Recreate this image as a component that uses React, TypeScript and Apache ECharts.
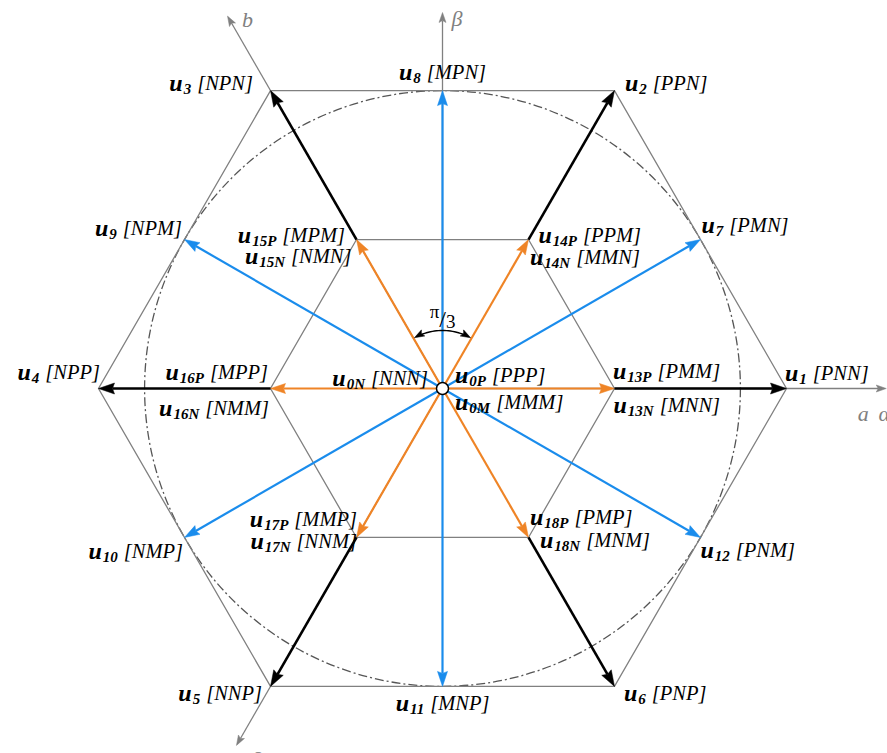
import React, { useEffect, useRef } from 'react';
import * as echarts from 'echarts';

const W = 887;
const H = 753;

// Space vectors of a three-level inverter, in units of the large-vector length
const largeNames = ['1', '2', '3', '4', '5', '6'];
const largeStates = ['PNN', 'PPN', 'NPN', 'NPP', 'NNP', 'PNP'];
const largeX = [1, 0.5, -0.5, -1, -0.5, 0.5];
const largeY = [0, 0.866, 0.866, 0, -0.866, -0.866];

const mediumNames = ['7', '8', '9', '10', '11', '12'];
const mediumStates = ['PMN', 'MPN', 'NPM', 'NMP', 'MNP', 'PNM'];
const mediumX = [0.75, 0, -0.75, -0.75, 0, 0.75];
const mediumY = [0.433, 0.866, 0.433, -0.433, -0.866, -0.433];

const smallNames = ['13', '14', '15', '16', '17', '18'];
const smallStatesP = ['PMM', 'PPM', 'MPM', 'MPP', 'MMP', 'PMP'];
const smallStatesN = ['MNN', 'MMN', 'NMN', 'NMM', 'NNM', 'MNM'];
const smallX = [0.5, 0.25, -0.25, -0.5, -0.25, 0.25];
const smallY = [0, 0.433, 0.433, 0, -0.433, -0.433];

const zeroNames = ['0N', '0P', '0M'];
const zeroStates = ['NNN', 'PPP', 'MMM'];

// linear-modulation limit circle (inscribed in the outer hexagon)
const circleRadius = 0.866;

// reference axes a, b, c and beta
const axisX = [1.29, -0.625, -0.599, 0];
const axisY = [0, 1.0825, -1.0375, 1.093];
const axisLabelText = [['a', 'α'], ['b'], ['c'], ['β']];

// ---- layout (pixel offsets of labels from their tips) ----
type Pos = [number, number, 'left' | 'right' | 'center'];
const largeLabelPos: Pos[] = [
  [-1.5, -15.5, 'left'], [10.5, -8, 'left'], [-17.5, -7.5, 'right'],
  [1.5, -16.5, 'right'], [-8.5, 6.6, 'right'], [9.5, 6.6, 'left'],
];
const mediumLabelPos: Pos[] = [
  [1, -14.5, 'left'], [0, -18.6, 'center'], [-2.5, -11.5, 'right'],
  [-1.5, 13.5, 'right'], [0, 16.6, 'center'], [0, 12.5, 'left'],
];
const smallLabelPosP: Pos[] = [
  [-1.5, -17.5, 'left'], [10, -5, 'left'], [-11.5, -5, 'right'],
  [-2.5, -17, 'right'], [0.5, -18, 'right'], [1.5, -20, 'left'],
];
const smallLabelPosN: Pos[] = [
  [-1, 16.5, 'left'], [1.5, 17, 'left'], [-5, 16, 'right'],
  [-1.5, 19, 'right'], [0.5, 4, 'right'], [11.5, 3, 'left'],
];
const zeroLabelPos: Pos[] = [
  [-14.5, -10.5, 'right'], [12.5, -13.5, 'left'], [12.5, 13, 'left'],
];
const axisLabelPos: [number, number][][] = [
  [[-23, 25], [-2, 25]],
  [[20, 3]],
  [[20, 9]],
  [[14.5, 5.5]],
];

const SERIF = 'Liberation Serif';
const BLUE = '#1a8cec';
const ORANGE = '#ef8426';
const GRAY = '#808080';

// pixel mapping of the value axes: origin at (442.5, 388.5), unit = 344 px
const UNIT = 344;
const OX = 442.5;
const OY = 388.5;
const X_MIN = -OX / UNIT;
const X_MAX = (W - OX) / UNIT;
const Y_MAX = OY / UNIT;
const Y_MIN = -(H - OY) / UNIT;

const rich = {
  u: { fontFamily: SERIF, fontStyle: 'italic', fontWeight: 'bold', fontSize: 24, lineHeight: 18, fill: '#000' },
  s: { fontFamily: SERIF, fontStyle: 'italic', fontWeight: 'bold', fontSize: 15, lineHeight: 18, padding: [12, 0, 0, 1], fill: '#000' },
  t: { fontFamily: SERIF, fontStyle: 'italic', fontSize: 20.5, lineHeight: 18, padding: [0, 0, 0, 6], fill: '#000' },
};

const angleRich = {
  a: { fontFamily: SERIF, fontSize: 19, lineHeight: 30, padding: [0, 0, 15, 0], fill: '#000' },
  b: { fontFamily: SERIF, fontSize: 24, lineHeight: 30, fill: '#000' },
  c: { fontFamily: SERIF, fontSize: 19, lineHeight: 30, padding: [6, 0, 0, 0], fill: '#000' },
};

type P = number[];

function head(tip: P, ux: number, uy: number, color: string, len: number, wid: number, notch: number) {
  const nx = -uy;
  const ny = ux;
  const bx = tip[0] - ux * len;
  const by = tip[1] - uy * len;
  const mx = tip[0] - ux * (len - notch);
  const my = tip[1] - uy * (len - notch);
  return {
    type: 'polygon',
    shape: {
      points: [
        [tip[0], tip[1]],
        [bx + nx * wid / 2, by + ny * wid / 2],
        [mx, my],
        [bx - nx * wid / 2, by - ny * wid / 2],
      ],
    },
    style: { fill: color, stroke: color, lineWidth: 0.5 },
  };
}

function arrow(p0: P, p1: P, color: string, lw: number, len: number, wid: number, notch: number) {
  const dx = p1[0] - p0[0];
  const dy = p1[1] - p0[1];
  const d = Math.hypot(dx, dy);
  const ux = dx / d;
  const uy = dy / d;
  return [
    {
      type: 'line',
      shape: { x1: p0[0], y1: p0[1], x2: p1[0] - ux * (len - notch), y2: p1[1] - uy * (len - notch) },
      style: { stroke: color, lineWidth: lw },
    },
    head(p1, ux, uy, color, len, wid, notch),
  ];
}

function label(p: P, pos: Pos, sub: string, state: string) {
  return {
    type: 'text',
    x: p[0] + pos[0],
    y: p[1] + pos[1],
    style: {
      text: `{u|u}{s|${sub}}{t|[${state}]}`,
      rich,
      align: pos[2],
      verticalAlign: 'middle',
    },
  };
}

function renderDiagram(_params: any, api: any) {
  const c = (x: number, y: number): P => api.coord([x, y]);
  const o = c(0, 0);
  const children: any[] = [];

  // limit circle (dash-dot)
  const rPx = c(circleRadius, 0)[0] - o[0];
  children.push({
    type: 'circle',
    shape: { cx: o[0], cy: o[1], r: rPx },
    style: { fill: 'none', stroke: '#555', lineWidth: 1.3, lineDash: [9, 3, 2, 3] },
  });

  // outer and inner hexagons
  children.push({
    type: 'polygon',
    shape: { points: largeX.map((x, i) => c(x, largeY[i])) },
    style: { fill: 'none', stroke: GRAY, lineWidth: 1.3 },
  });
  children.push({
    type: 'polygon',
    shape: { points: smallX.map((x, i) => c(x, smallY[i])) },
    style: { fill: 'none', stroke: GRAY, lineWidth: 1.3 },
  });

  // reference axes
  axisX.forEach((x, i) => {
    const tip = c(x, axisY[i]);
    children.push(...arrow(o, tip, GRAY, 1.3, 10, 7, 2));
    axisLabelPos[i].forEach((lp, k) => {
      children.push({
        type: 'text',
        x: tip[0] + lp[0],
        y: tip[1] + lp[1],
        style: {
          text: axisLabelText[i][k],
          fontFamily: SERIF,
          fontStyle: 'italic',
          fontSize: 22,
          fill: GRAY,
          align: 'center',
          verticalAlign: 'middle',
        },
      });
    });
  });

  // medium vectors (blue)
  mediumX.forEach((x, i) => {
    children.push(...arrow(o, c(x, mediumY[i]), BLUE, 2.2, 15, 10, 2));
  });
  // small vectors (orange)
  smallX.forEach((x, i) => {
    children.push(...arrow(o, c(x, smallY[i]), ORANGE, 2.2, 15, 10, 2));
  });
  // large vectors (black), drawn from the small-vector tips
  largeX.forEach((x, i) => {
    children.push(...arrow(c(smallX[i], smallY[i]), c(x, largeY[i]), '#000', 2.6, 16, 11, 2));
  });

  // angle between adjacent small vectors: pi/3
  const ar = 58;
  const pts: P[] = [];
  for (let a = 66; a <= 114; a += 2) {
    const t = (a * Math.PI) / 180;
    pts.push([o[0] + ar * Math.cos(t), o[1] - ar * Math.sin(t)]);
  }
  children.push({ type: 'polyline', shape: { points: pts }, style: { stroke: '#000', lineWidth: 1.4, fill: 'none' } });
  const t1 = (61 * Math.PI) / 180;
  const t2 = (119 * Math.PI) / 180;
  children.push(head([o[0] + ar * Math.cos(t1), o[1] - ar * Math.sin(t1)], Math.sin(t1), Math.cos(t1), '#000', 10, 7, 2));
  children.push(head([o[0] + ar * Math.cos(t2), o[1] - ar * Math.sin(t2)], -Math.sin(t2), -Math.cos(t2), '#000', 10, 7, 2));
  children.push({
    type: 'text',
    x: o[0],
    y: o[1] - 70,
    style: { text: '{a|π}{b|/}{c|3}', rich: angleRich, align: 'center', verticalAlign: 'middle' },
  });

  // labels
  largeX.forEach((x, i) => children.push(label(c(x, largeY[i]), largeLabelPos[i], largeNames[i], largeStates[i])));
  mediumX.forEach((x, i) => children.push(label(c(x, mediumY[i]), mediumLabelPos[i], mediumNames[i], mediumStates[i])));
  smallX.forEach((x, i) => {
    const p = c(x, smallY[i]);
    children.push(label(p, smallLabelPosP[i], smallNames[i] + 'P', smallStatesP[i]));
    children.push(label(p, smallLabelPosN[i], smallNames[i] + 'N', smallStatesN[i]));
  });
  zeroNames.forEach((n, i) => children.push(label(o, zeroLabelPos[i], n, zeroStates[i])));

  // zero vector marker
  children.push({
    type: 'circle',
    shape: { cx: o[0], cy: o[1], r: 6 },
    style: { fill: '#fff', stroke: '#000', lineWidth: 1.4 },
  });

  return { type: 'group', children };
}

export default function App() {
  const ref = useRef<HTMLDivElement>(null);
  useEffect(() => {
    const chart = echarts.init(ref.current!, undefined, { renderer: 'svg' });
    chart.setOption({
      animation: false,
      backgroundColor: '#fff',
      grid: { left: 0, right: 0, top: 0, bottom: 0, containLabel: false },
      xAxis: { type: 'value', min: X_MIN, max: X_MAX, show: false },
      yAxis: { type: 'value', min: Y_MIN, max: Y_MAX, show: false },
      series: [
        {
          type: 'custom',
          coordinateSystem: 'cartesian2d',
          clip: false,
          silent: true,
          data: [[0, 0]],
          renderItem: renderDiagram,
        },
      ],
    });
    return () => chart.dispose();
  }, []);
  return (
    <div
      ref={ref}
      style={{ position: 'absolute', left: 0, top: 0, width: W, height: H }}
    />
  );
}
